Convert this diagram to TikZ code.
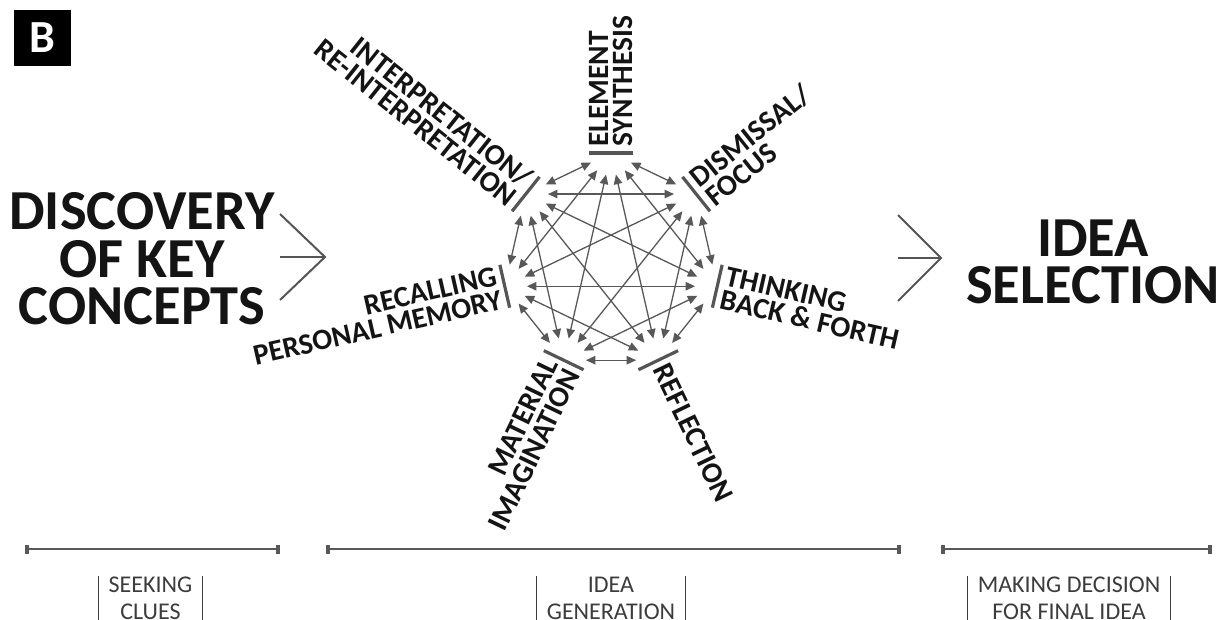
\documentclass[tikz,border=0pt]{standalone}
\usepackage{fontspec}
\setmainfont{Carlito}
\usetikzlibrary{arrows.meta,calc}
\definecolor{ink}{HTML}{141414}
\definecolor{edgegray}{HTML}{585858}
\definecolor{bargray}{HTML}{555555}
\definecolor{phasegray}{HTML}{3C3C3C}
\begin{document}
\begin{tikzpicture}[x=1pt,y=1pt,
  vert/.style={circle, minimum size=44pt, inner sep=0pt},
  link/.style={draw=edgegray, line width=1.3pt, {Triangle[length=9.5pt,width=8.5pt]}-{Triangle[length=9.5pt,width=8.5pt]}},
  vbar/.style={draw=bargray, line width=3.2pt},
  lab/.style={font=\bfseries\fontsize{29.5}{24.5}\selectfont, text=ink, inner sep=0pt},
  labR/.style={lab, align=left, anchor=west},
  labL/.style={lab, align=right, anchor=east},
  bigtitle/.style={font=\bfseries\fontsize{56.5}{47.5}\selectfont, text=ink, align=center, inner sep=0pt},
  chev/.style={draw=bargray, line width=2pt, line join=miter},
  seg/.style={draw=edgegray, line width=1.6pt},
  endtick/.style={fill=edgegray, minimum width=3.5pt, minimum height=9pt, inner sep=0pt},
  phaselab/.style={font=\fontsize{24}{27}\selectfont, text=phasegray, align=center, inner xsep=10pt, inner ysep=0pt, anchor=north},
  pbar/.style={draw=phasegray, line width=1pt}
]
\useasboundingbox (0,0) rectangle (1223,619);

% panel letter
\node[fill=black, minimum width=57pt, minimum height=56pt, inner sep=0pt, text=white,
      font=\bfseries\fontsize{46}{46}\selectfont] (B) at (42.5,581) {B};

% heptagon vertices
\coordinate (C) at (611,357);
\foreach \n/\a in {ES/90, DF/38.571, TB/-12.857, RF/-64.286, MI/-115.714, RM/-167.143, IR/141.429} {
  \node[vert] (v\n) at ($(C)+(\a:109)$) {};
  \draw[vbar] ($(C)+(\a:109)+(\a+90:22)$) -- ($(C)+(\a:109)+(\a-90:22)$);
}
\foreach \p/\q in {ES/DF, ES/TB, ES/RF, ES/MI, ES/RM, ES/IR,
                   DF/TB, DF/RF, DF/MI, DF/RM, DF/IR,
                   TB/RF, TB/MI, TB/RM, TB/IR,
                   RF/MI, RF/RM, RF/IR,
                   MI/RM, MI/IR,
                   RM/IR}
  \draw[link] (v\p) -- (v\q);

% labels
\node[labR, rotate=90] (tES) at ($(C)+(90:115)$) {ELEMENT\\SYNTHESIS};
\node[labR, rotate=38.571] (tDF) at ($(C)+(38.571:115)$) {DISMISSAL/\\FOCUS};
\node[labR, rotate=-12.857] (tTB) at ($(C)+(-12.857:115)$) {THINKING\\BACK \& FORTH};
\node[labR, rotate=-64.286] (tRF) at ($(C)+(-64.286:115)$) {REFLECTION};
\node[labL, rotate=64.286] (tMI) at ($(C)+(-115.714:115)$) {MATERIAL\\IMAGINATION};
\node[labL, rotate=12.857] (tRM) at ($(C)+(-167.143:115)$) {RECALLING\\PERSONAL MEMORY};
\node[labL, rotate=-38.571] (tIR) at ($(C)+(141.429:115)$) {INTERPRETATION/\\RE-INTERPRETATION};

% titles
\node[bigtitle] (disc) at (142,360) {DISCOVERY\\OF KEY\\CONCEPTS};
\node[bigtitle] (sel) at (1093,357) {IDEA\\SELECTION};

% chevrons
\coordinate (la) at (280,362); \coordinate (lt) at (325,362);
\draw[chev] (la) -- (lt);
\draw[chev] ($(lt)+(-45,43)$) -- (lt) -- ($(lt)+(-45,-43)$);
\coordinate (ra) at (898,361); \coordinate (rt) at (941,361);
\draw[chev] (ra) -- (rt);
\draw[chev] ($(rt)+(-43,43)$) -- (rt) -- ($(rt)+(-43,-43)$);

% timeline
\foreach \i/\xa/\xb in {1/27/278, 2/328/899, 3/943/1210} {
  \node[endtick] (sa\i) at (\xa,70) {};
  \node[endtick] (sb\i) at (\xb,70) {};
  \draw[seg] (sa\i) -- (sb\i);
}
\node[phaselab] (p1) at (150.5,42) {SEEKING\\CLUES};
\node[phaselab] (p2) at (611,42) {IDEA\\GENERATION};
\node[phaselab] (p3) at (1069,42) {MAKING DECISION\\FOR FINAL IDEA};
\foreach \p in {p1,p2,p3} {
  \draw[pbar] ([yshift=1pt]\p.north west) -- ([yshift=-12pt]\p.south west);
  \draw[pbar] ([yshift=1pt]\p.north east) -- ([yshift=-12pt]\p.south east);
}
\end{tikzpicture}
\end{document}
